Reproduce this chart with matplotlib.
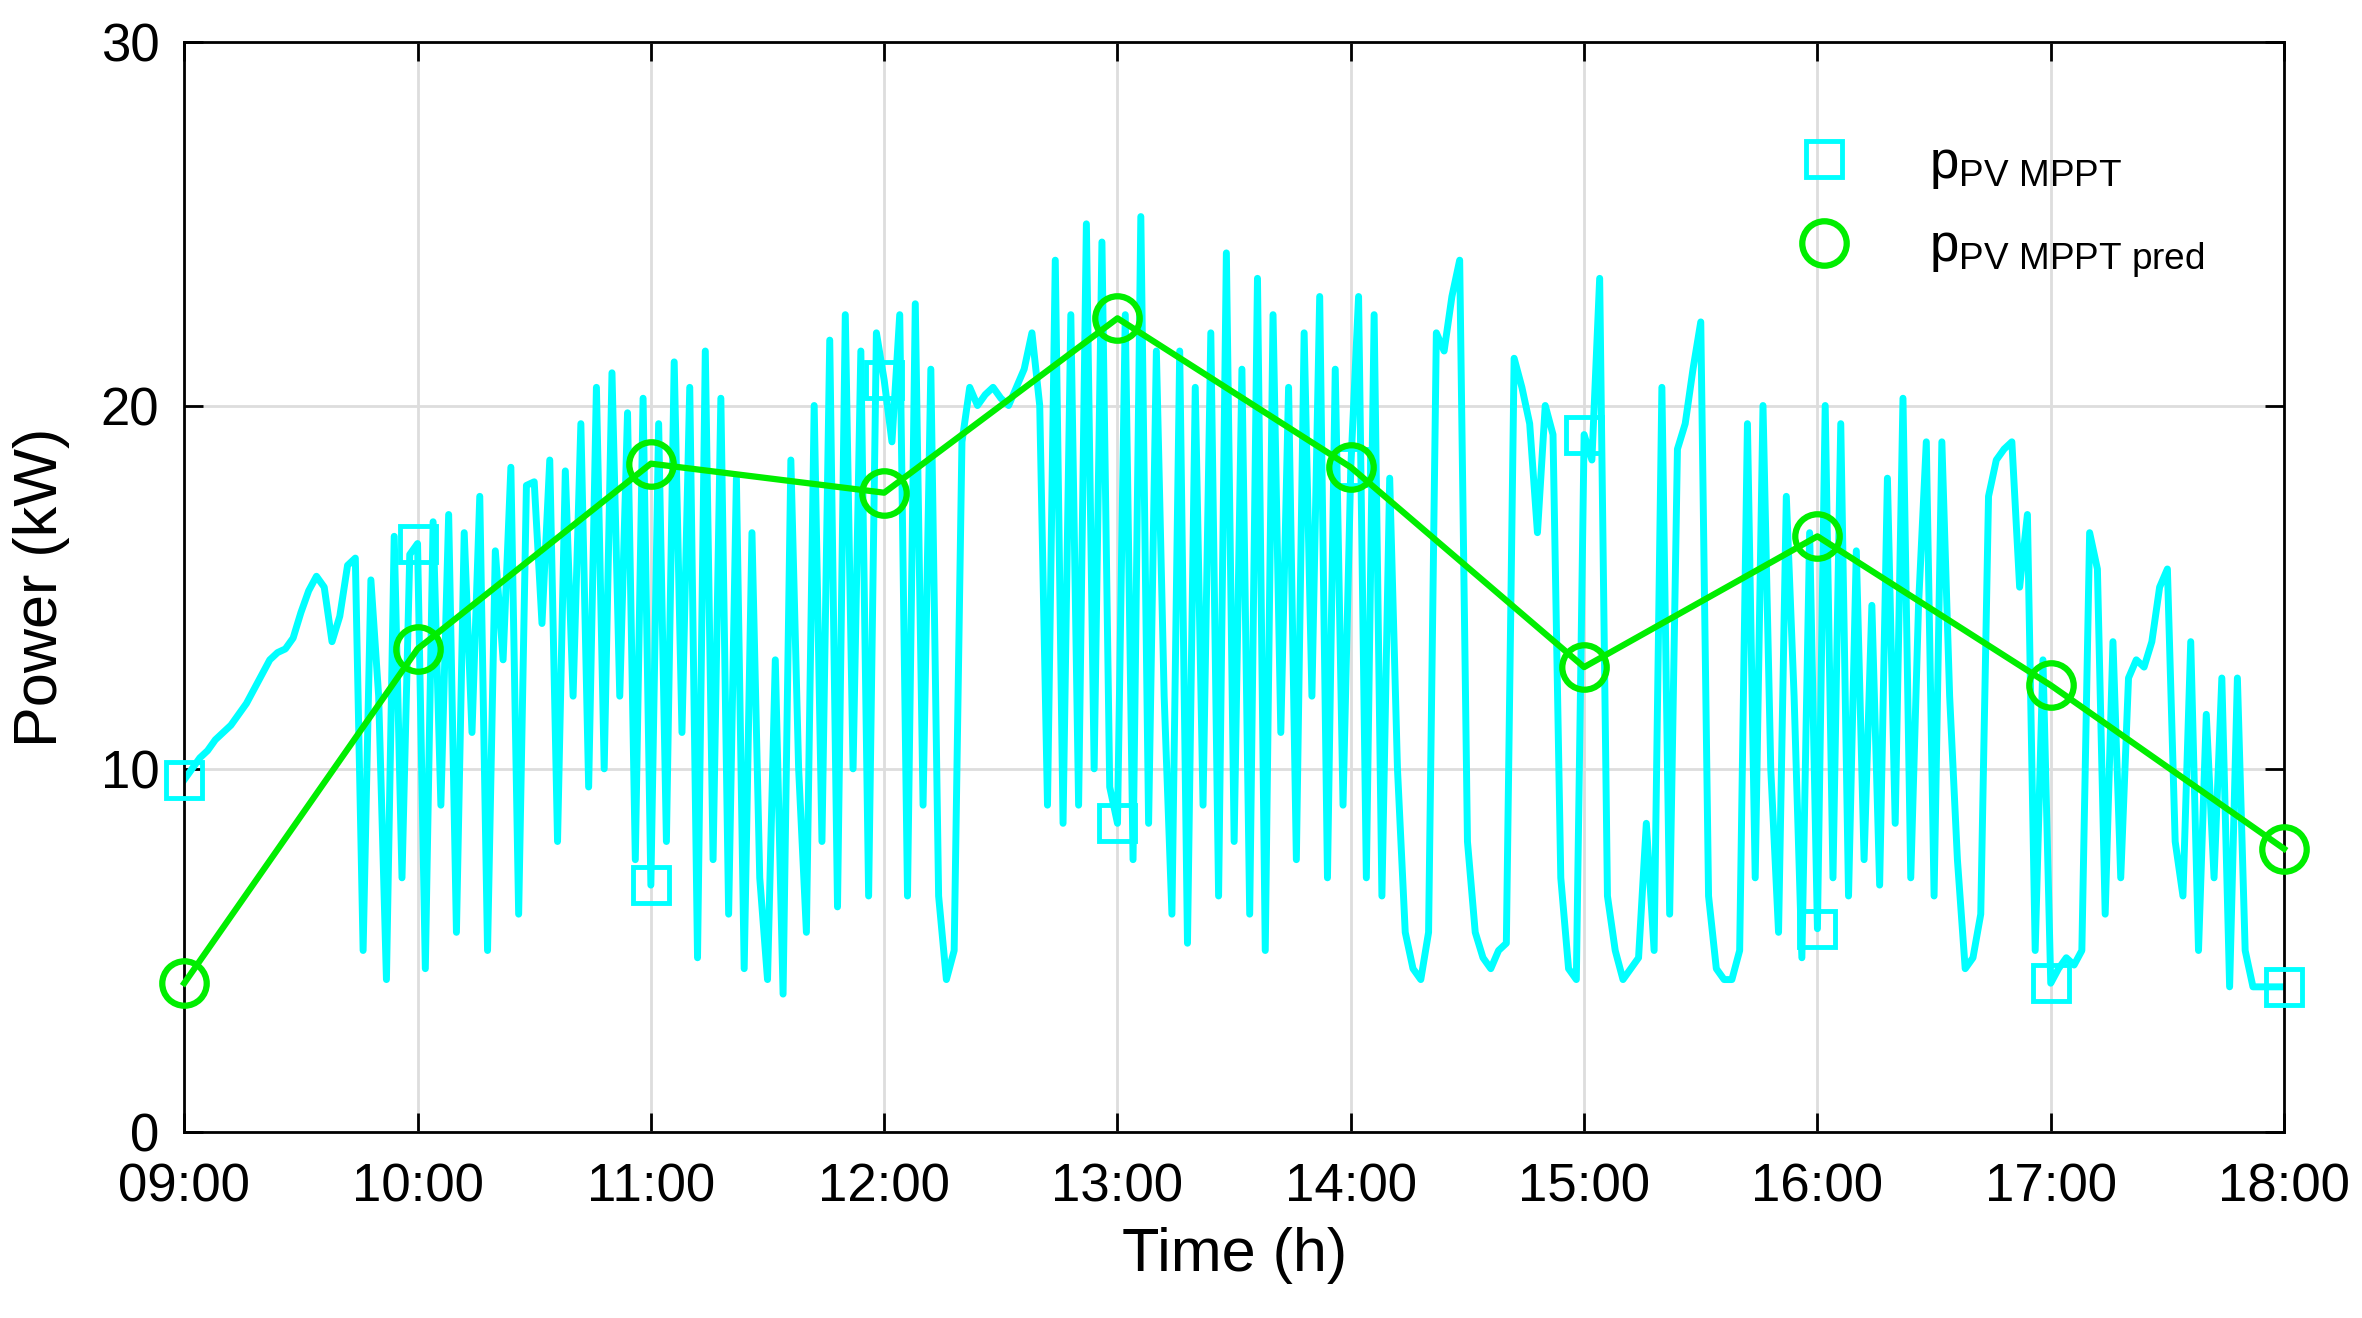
import numpy as np
import matplotlib
matplotlib.use("Agg")
import matplotlib.pyplot as plt
from matplotlib.lines import Line2D

plt.rcParams['font.family'] = ['Liberation Sans', 'DejaVu Sans']
plt.rcParams['mathtext.fontset'] = 'custom'
plt.rcParams['mathtext.rm'] = 'Liberation Sans'
plt.rcParams['mathtext.it'] = 'Liberation Sans'

hour_labels = ["09:00","10:00","11:00","12:00","13:00","14:00","15:00","16:00","17:00","18:00"]
square_vals = [9.7, 16.2, 6.8, 20.7, 8.5, 18.3, 19.2, 5.6, 4.1, 4.0]
pred_vals = [4.1, 13.3, 18.4, 17.6, 22.4, 18.3, 12.8, 16.4, 12.3, 7.8]

h09 = [9.7,10.0,10.3,10.5,10.8,11.0,11.2,11.5,11.8,12.2,12.6,13.0,13.2,13.3,13.6,14.3,14.9,15.3,15.0,13.5,14.2,15.6,15.8,5.0,15.2,12.0,4.2,16.4,7.0,15.9]
h10 = [16.2,4.5,16.8,9.0,17.0,5.5,16.5,11.0,17.5,5.0,16.0,13.0,18.3,6.0,17.8,17.9,14.0,18.5,8.0,18.2,12.0,19.5,9.5,20.5,10.0,20.9,12.0,19.8,7.5,20.2]
h11 = [6.8,19.5,8.0,21.2,11.0,20.5,4.8,21.5,7.5,20.2,6.0,18.0,4.5,16.5,7.0,4.2,13.0,3.8,18.5,10.0,5.5,20.0,8.0,21.8,6.2,22.5,10.0,21.5,6.5,22.0]
h12 = [20.7,19.0,22.5,6.5,22.8,9.0,21.0,6.5,4.2,5.0,19.0,20.5,20.0,20.3,20.5,20.2,20.0,20.5,21.0,22.0,20.0,9.0,24.0,8.5,22.5,9.0,25.0,10.0,24.5,9.5]
h13 = [8.5,22.5,7.5,25.2,8.5,21.5,12.0,6.0,21.5,5.2,20.5,9.0,22.0,6.5,24.2,8.0,21.0,6.0,23.5,5.0,22.5,11.0,20.5,7.5,22.0,12.0,23.0,7.0,21.0,9.0]
h14 = [18.3,23.0,7.0,22.5,6.5,18.0,10.0,5.5,4.5,4.2,5.5,22.0,21.5,23.0,24.0,8.0,5.5,4.8,4.5,5.0,5.2,21.3,20.5,19.5,16.5,20.0,19.2,7.0,4.5,4.2]
h15 = [19.2,18.5,23.5,6.5,5.0,4.2,4.5,4.8,8.5,5.0,20.5,6.0,18.8,19.5,21.0,22.3,6.5,4.5,4.2,4.2,5.0,19.5,7.0,20.0,10.0,5.5,17.5,12.0,4.8,16.5]
h16 = [5.6,20.0,7.0,19.5,6.5,16.0,7.5,14.5,6.8,18.0,8.5,20.2,7.0,14.5,19.0,6.5,19.0,12.0,7.5,4.5,4.8,6.0,17.5,18.5,18.8,19.0,15.0,17.0,5.0,13.0]
h17 = [4.1,4.5,4.8,4.6,5.0,16.5,15.5,6.0,13.5,7.0,12.5,13.0,12.8,13.5,15.0,15.5,8.0,6.5,13.5,5.0,11.5,7.0,12.5,4.0,12.5,5.0,4.0,4.0,4.0,4.0]
h18 = [4.0]

pv = np.array(h09+h10+h11+h12+h13+h14+h15+h16+h17+h18)
t_pv = 9 + np.arange(len(pv)) * 2 / 60.0
t_hours = 9 + np.arange(len(hour_labels))

fig = plt.figure(figsize=(23.62, 13.18), dpi=100)
ax = fig.add_axes([0.078, 0.141, 0.889, 0.827])
cyan = '#00FFFF'
green = '#00EE00'
ax.plot(t_pv, pv, color=cyan, lw=5, zorder=2)
ax.plot(t_hours, square_vals, ls='none', marker='s', ms=26, mfc='none', mec=cyan, mew=3.5, zorder=3, clip_on=False)
ax.plot(t_hours, pred_vals, color=green, lw=4.5, marker='o', ms=32, mfc='none', mec=green, mew=4.5, zorder=4, clip_on=False)

ax.set_xlim(9, 18)
ax.set_ylim(0, 30)
ax.set_xticks(t_hours)
ax.set_xticklabels(hour_labels)
ax.set_yticks([0, 10, 20, 30])
ax.grid(True, color='#DDDDDD', lw=2)
ax.set_axisbelow(True)
ax.tick_params(direction='in', length=14, width=2, labelsize=38, top=True, right=True)
ax.tick_params(axis='x', pad=22)
ax.tick_params(axis='y', pad=18)
for s in ax.spines.values():
    s.set_linewidth(2)
ax.set_xlabel('Time (h)', fontsize=44, labelpad=10)
ax.set_ylabel('Power (kW)', fontsize=44, labelpad=22)

handles = [Line2D([], [], ls='none', marker='s', ms=26, mfc='none', mec=cyan, mew=3.5),
           Line2D([], [], ls='none', marker='o', ms=32, mfc='none', mec=green, mew=4.5)]
labels = [r'$\mathrm{p}_{\mathrm{PV\ MPPT}}$', r'$\mathrm{p}_{\mathrm{PV\ MPPT\ pred}}$']
ax.legend(handles, labels, loc='upper right', bbox_to_anchor=(0.985, 0.955), frameon=False,
          fontsize=38, handletextpad=1.0, labelspacing=0.6)

fig.savefig('out.png', dpi=100)
